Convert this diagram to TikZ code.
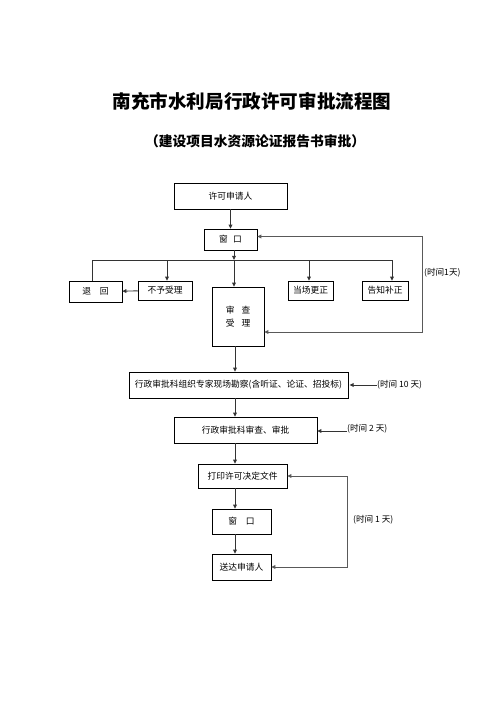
\documentclass[tikz,border=0pt]{standalone}
\usepackage{fontspec}
\newfontfamily\cjk{Noto Sans CJK SC}
\usetikzlibrary{arrows.meta, calc}

\begin{document}
\begin{tikzpicture}[x=1.2pt, y=-1.2pt,
    box/.style={draw, line width=0.6pt, inner sep=0pt, align=center,
                font=\cjk\fontsize{10.5}{14}\selectfont},
    sz/.style 2 args={minimum width=#1*1.2pt, minimum height=#2*1.2pt},
    flow/.style={-{Triangle[length=5pt,width=4.5pt]}, line width=1.1pt, black!80},
    back/.style={{Triangle[length=5pt,width=4.5pt]}-{Triangle[length=5pt,width=4.5pt]},
                 line width=1.1pt, black!65},
    timenote/.style={anchor=west, inner sep=0pt, font=\cjk\fontsize{10.3}{12}\selectfont}]
  \useasboundingbox (0,0) rectangle (496,702);

  % title
  \node[font=\cjk\bfseries\fontsize{22.3}{27}\selectfont] (title) at (252,101)
    {南充市水利局行政许可审批流程图};
  \node[font=\cjk\bfseries\fontsize{16.5}{19}\selectfont] (subtitle) at (255,141)
    {（建设项目水资源论证报告书审批）};

  % upper part
  \node[box, sz={113}{26}] (app)  at (230.5,196)   {许可申请人};
  \node[box, sz={53}{21}]  (win1) at (230.5,239.5) {窗\hspace{0.6em}口};
  \node[box, sz={53}{21}]  (ret)  at (95.5,291.5)  {退\quad 回};
  \node[box, sz={54}{19}]  (rej)  at (165,290.5)   {不予受理};
  \node[box, sz={52}{59}]  (rev)  at (238,316.5)   {审\hspace{0.8em}查\\[2pt]受\hspace{0.8em}理};
  \node[box, sz={45}{19}]  (fix)  at (310.5,290.5) {当场更正};
  \node[box, sz={46}{19}]  (tell) at (385,290.5)   {告知补正};

  \coordinate (busL) at (92,260);
  \coordinate (busM) at (234,260);
  \coordinate (busR) at (392,260);
  \coordinate (loopA) at (422,332);

  \draw[flow] (app) -- (win1);
  \draw[flow] (win1.south -| busM) -- (busM);
  \draw[line width=1.1pt, black!80] (ret.north -| busL) -- (busL) -- (busR);
  \draw[flow] (busM) -- (rev.north -| busM);
  \draw[flow] (busL -| rej.center) ++(2,0) coordinate (r) -- (rej.north -| r);
  \draw[flow] (busL -| fix.center) ++(-1.5,0) coordinate (f) -- (fix.north -| f);
  \draw[flow] (busR) -- (tell.north -| busR);
  \draw[flow] (rej) -- (ret);
  \draw[back] (win1.east) ++(0,-3) coordinate (w) -- (w -| loopA) -- (loopA) -- (loopA -| rev.east);
  \node[timenote] (t1) at (424,273) {(时间1天)};

  % lower part
  \coordinate (axis) at (235,0);
  \node[box, sz={219}{26}] (survey) at (238.5,385) {行政审批科组织专家现场勘察(含听证、论证、招投标)};
  \node[box, sz={143}{26}] (audit)  at (245.5,430) {行政审批科审查、审批};
  \node[box, sz={89}{24}]  (print)  at (242.5,476) {打印许可决定文件};
  \node[box, sz={59}{25}]  (win2)   at (241.5,521.5) {窗\quad 口};
  \node[box, sz={59}{26}]  (send)   at (241.5,567) {送达申请人};

  \draw[flow] (rev.south -| axis) -- (survey.north -| axis);
  \draw[flow] (survey.south -| axis) -- (audit.north -| axis);
  \draw[flow] (audit.south -| axis) -- (print.north -| axis);
  \draw[flow] (print.south -| axis) -- (win2.north -| axis);
  \draw[flow] (win2.south -| axis) -- (send.north -| axis);

  \node[timenote] (t10) at (377,385) {(时间 10 天)};
  \draw[flow] (t10.west) -- ([xshift=1.5pt]survey.east |- t10.west);
  \node[timenote] (t2) at (347,429) {(时间 2 天)};
  \draw[flow] (t2.west) ++(0,2) coordinate (a) -- (audit.east |- a);

  \coordinate (loopB) at (347,0);
  \draw[back] (print.east) -- (print.east -| loopB) -- (send.east -| loopB) -- (send.east);
  \node[timenote] (t1b) at (353,520) {(时间 1 天)};
\end{tikzpicture}
\end{document}
